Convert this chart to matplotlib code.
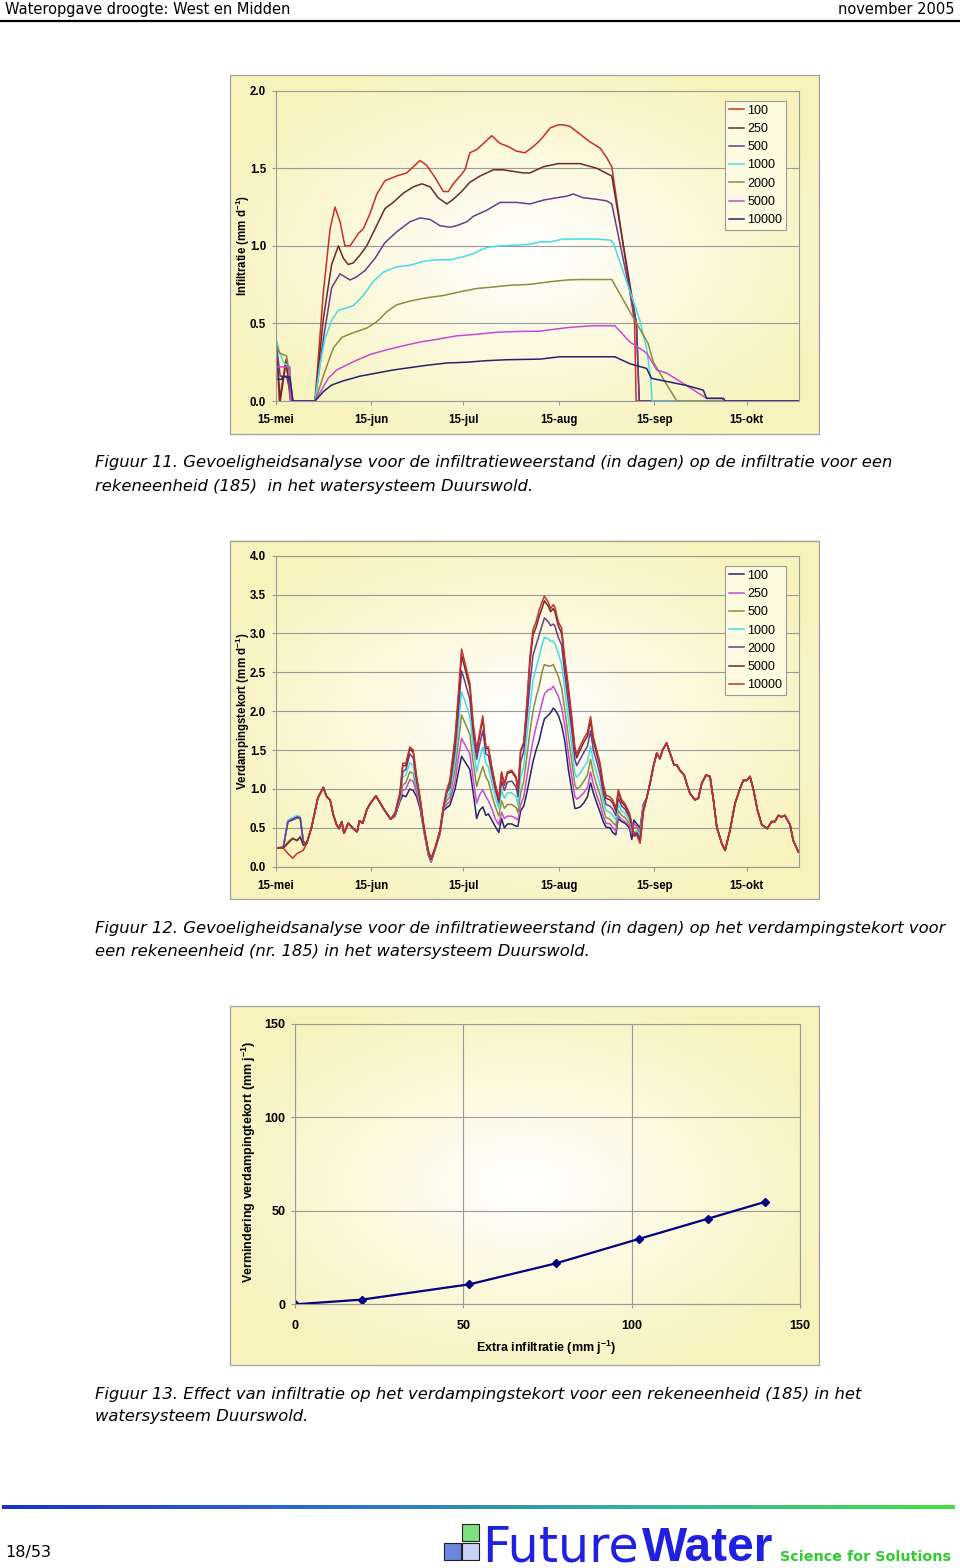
import numpy as np
import matplotlib
matplotlib.use("Agg")
import matplotlib.pyplot as plt
from matplotlib.patches import Rectangle
from matplotlib.colors import LinearSegmentedColormap, to_rgb

W, H = 960, 1568

# ---------------- data ----------------
series_labels = ["100", "250", "500", "1000", "2000", "5000", "10000"]
tick_days = [0, 31, 61, 92, 123, 153]          # days after 15 May
tick_labels = ["15-mei", "15-jun", "15-jul", "15-aug", "15-sep", "15-okt"]

# Figure 11: infiltration (mm/d), one day list per series
inf_days_100 = [0, 1.2, 3.4, 4.8, 12.8, 15.5, 17.7, 19.3, 21.0, 22.5, 24.2, 26.9, 28.5, 30.7, 32.8, 35.5,
                39.3, 42.6, 44.2, 46.9, 49.0, 51.8, 54.5, 56.1, 57.7, 59.9, 61.5, 63.1, 65.3, 67.5, 70.2,
                72.9, 75.6, 78.3, 81.0, 83.7, 85.9, 89.2, 91.8, 93.5, 95.6, 98.9, 102.1, 105.4, 107.5,
                109.2, 116.6, 117.1, 170]
inf_100 = [0.46, 0.0, 0.27, 0.0, 0.0, 0.70, 1.11, 1.25, 1.15, 1.00, 1.00, 1.08, 1.11, 1.21, 1.33, 1.42,
           1.45, 1.47, 1.50, 1.55, 1.52, 1.44, 1.35, 1.35, 1.40, 1.45, 1.49, 1.60, 1.62, 1.66, 1.71,
           1.66, 1.64, 1.61, 1.60, 1.64, 1.68, 1.76, 1.78, 1.78, 1.77, 1.72, 1.67, 1.63, 1.57,
           1.51, 0.50, 0.0, 0.0]

inf_days_250 = [0, 1.5, 3.4, 5.2, 12.8, 15.5, 18.2, 20.4, 22.0, 23.6, 25.2, 27.4, 29.6, 32.8, 35.5, 38.2,
                41.5, 44.7, 47.5, 50.2, 52.8, 55.6, 57.7, 60.4, 63.1, 66.4, 70.7, 73.9, 77.2, 80.5, 82.6,
                87.0, 91.8, 98.9, 104.3, 109.2, 117.2, 118.1, 170]
inf_250 = [0.44, 0.0, 0.25, 0.0, 0.0, 0.53, 0.88, 1.00, 0.92, 0.88, 0.89, 0.94, 1.00, 1.13, 1.24, 1.28,
           1.34, 1.38, 1.40, 1.38, 1.31, 1.27, 1.30, 1.35, 1.41, 1.45, 1.49, 1.49, 1.48, 1.47, 1.47,
           1.51, 1.53, 1.53, 1.50, 1.45, 0.50, 0.0, 0.0]

inf_days_500 = [0, 1.5, 3.5, 5.5, 12.8, 15.5, 18.2, 20.9, 22.5, 24.2, 26.3, 29.0, 32.3, 35.5, 39.3, 43.6,
                46.9, 50.2, 53.4, 56.6, 58.8, 62.1, 64.2, 68.6, 72.9, 78.3, 82.6, 87.0, 91.3, 94.6, 96.7,
                99.9, 104.3, 107.5, 109.2, 117.2, 118.1, 170]
inf_500 = [0.40, 0.16, 0.16, 0.0, 0.0, 0.40, 0.73, 0.82, 0.80, 0.78, 0.80, 0.84, 0.92, 1.02, 1.09, 1.155,
           1.18, 1.17, 1.13, 1.12, 1.13, 1.155, 1.19, 1.23, 1.28, 1.28, 1.27, 1.295, 1.31, 1.32, 1.334,
           1.31, 1.30, 1.29, 1.27, 0.50, 0.0, 0.0]

inf_days_1000 = [0, 1.5, 2.5, 4.5, 5.5, 12.8, 14.4, 16.0, 18.2, 20.4, 23.1, 25.2, 28.5, 31.7, 35.0, 39.3,
                 43.6, 48.0, 52.3, 56.6, 61.0, 64.2, 68.6, 72.9, 78.3, 82.6, 85.9, 89.2, 93.5, 98.9, 104.3,
                 108.6, 109.7, 118.3, 120.5, 121.8, 122.3, 170]
inf_1000 = [0.41, 0.30, 0.25, 0.22, 0.0, 0.0, 0.23, 0.40, 0.52, 0.586, 0.60, 0.615, 0.68, 0.77, 0.83, 0.865,
            0.875, 0.90, 0.91, 0.91, 0.93, 0.95, 0.99, 1.00, 1.005, 1.01, 1.026, 1.026, 1.044, 1.044, 1.044,
            1.037, 1.02, 0.52, 0.34, 0.146, 0.0, 0.0]

inf_days_2000 = [0, 1.2, 3.6, 5.7, 12.8, 16.0, 18.7, 21.5, 25.2, 29.6, 32.8, 36.1, 39.3, 43.6, 49.0, 54.5,
                 59.9, 65.3, 70.7, 76.2, 82.6, 85.9, 89.2, 94.6, 98.9, 109.2, 115.1, 117.3, 121.0, 122.7,
                 126.5, 130.3, 170]
inf_2000 = [0.38, 0.31, 0.29, 0.0, 0.0, 0.19, 0.34, 0.41, 0.44, 0.47, 0.51, 0.575, 0.62, 0.644, 0.665, 0.68,
            0.704, 0.725, 0.735, 0.746, 0.752, 0.76, 0.769, 0.78, 0.783, 0.783, 0.575, 0.50, 0.37, 0.25,
            0.124, 0.0, 0.0]

inf_days_5000 = [0, 4.6, 4.9, 12.8, 17.1, 19.8, 25.2, 30.7, 36.1, 41.5, 46.9, 52.3, 58.8, 65.3, 71.8, 78.3,
                 85.9, 89.2, 95.6, 103.2, 110.2, 115.1, 120.5, 123.8, 127.0, 133.5, 140.0, 145.0, 145.5, 170]
inf_5000 = [0.22, 0.22, 0.0, 0.0, 0.146, 0.20, 0.253, 0.30, 0.33, 0.356, 0.38, 0.397, 0.42, 0.43, 0.443, 0.448,
            0.45, 0.459, 0.475, 0.485, 0.485, 0.38, 0.31, 0.20, 0.18, 0.10, 0.017, 0.017, 0.0, 0.0]

inf_days_10000 = [0, 2.0, 2.2, 4.6, 5.6, 12.8, 15.5, 18.2, 22.0, 27.4, 32.8, 38.2, 43.6, 49.0, 55.6, 62.1,
                  68.6, 75.1, 85.9, 92.3, 98.9, 110.2, 115.1, 120.5, 122.1, 126.0, 133.5, 138.9, 140.0, 145.5,
                  146.0, 170]
inf_10000 = [0.14, 0.14, 0.155, 0.155, 0.0, 0.0, 0.06, 0.103, 0.13, 0.16, 0.18, 0.20, 0.215, 0.23, 0.245, 0.25,
             0.26, 0.266, 0.27, 0.285, 0.285, 0.285, 0.24, 0.21, 0.146, 0.13, 0.10, 0.07, 0.017, 0.017,
             0.0, 0.0]

# Figure 12: evaporation deficit (mm/d), shared day grid in five stretches
ed_days_a = [0, 2.5, 4.0, 5.5, 7.0, 8.0, 9.0]
ed_days_b = [10.1, 11.7, 13.7, 15.5, 16.6, 17.7, 18.8, 19.8, 20.6, 21.5, 22.2, 23.6, 25.2, 26.5, 27.2,
             28.3, 29.6, 30.7, 32.6, 35.0, 37.4]
ed_days_c = [38.8, 40.4, 41.3, 42.3, 43.6, 44.7, 45.8, 46.9, 48.2, 49.6, 50.5]
ed_days_d = [51.8, 53.4, 54.5, 55.6, 56.6, 58.3, 59.3, 60.4, 61.5, 63.1, 64.2, 65.3, 66.2, 67.3, 68.3,
             69.1, 70.2, 71.3, 72.5, 73.4, 74.3, 75.3, 76.7, 78.1, 78.7, 79.6, 80.6, 81.6, 82.6, 83.6,
             84.6, 85.6, 86.5, 87.3, 88.6, 89.3, 90.2, 90.7, 91.8, 92.9, 94.0, 95.1, 96.2, 97.2, 97.8,
             98.9, 100.1, 101.3, 102.3, 103.2, 104.3, 105.4, 106.4, 107.3, 108.6, 109.5, 110.5, 111.3,
             112.4, 113.5, 114.9, 115.7, 116.4, 117.3, 118.4, 119.4]
ed_days_e = [120.5, 121.6, 122.7, 123.8, 124.8, 125.7, 127.0, 128.1, 129.4, 130.3, 131.3, 132.7, 133.5,
             134.6, 136.2, 137.3, 138.4, 139.8, 141.1, 142.2, 143.3, 144.9, 146.0, 147.6, 149.2, 150.8,
             151.9, 153.0, 154.1, 155.2, 156.5, 157.9, 159.7, 161.1, 162.2, 163.3, 164.4, 165.4, 167.1,
             168.1, 169.8]

ed_common_b = [0.30, 0.51, 0.88, 1.02, 0.90, 0.86, 0.66, 0.54, 0.49, 0.58, 0.43, 0.56, 0.49, 0.45, 0.59,
               0.56, 0.73, 0.81, 0.91, 0.75, 0.61]
ed_common_e = [0.88, 1.07, 1.29, 1.46, 1.39, 1.50, 1.59, 1.46, 1.31, 1.31, 1.24, 1.18, 1.07, 0.94, 0.86,
               0.88, 1.07, 1.18, 1.16, 0.86, 0.51, 0.30, 0.21, 0.47, 0.81, 1.00, 1.11, 1.11, 1.16, 0.99,
               0.73, 0.54, 0.49, 0.58, 0.58, 0.66, 0.64, 0.66, 0.54, 0.34, 0.19]

ed_a_100 = [0.24, 0.25, 0.58, 0.60, 0.63, 0.62, 0.32]
ed_a_250 = [0.24, 0.25, 0.59, 0.61, 0.64, 0.62, 0.32]
ed_a_500 = [0.24, 0.24, 0.32, 0.37, 0.33, 0.39, 0.27]
ed_a_1000 = [0.24, 0.25, 0.60, 0.63, 0.66, 0.64, 0.33]
ed_a_2000 = [0.24, 0.25, 0.58, 0.61, 0.64, 0.63, 0.32]
ed_a_5000 = [0.24, 0.24, 0.30, 0.36, 0.34, 0.38, 0.28]
ed_a_10000 = [0.24, 0.24, 0.17, 0.11, 0.17, 0.19, 0.21]

ed_c_100 = [0.65, 0.84, 0.92, 0.90, 1.00, 0.98, 0.90, 0.75, 0.45, 0.15, 0.06]
ed_c_250 = [0.66, 0.86, 0.98, 1.00, 1.12, 1.10, 0.95, 0.79, 0.46, 0.16, 0.06]
ed_c_500 = [0.67, 0.88, 1.05, 1.08, 1.22, 1.20, 1.00, 0.82, 0.47, 0.17, 0.07]
ed_c_1000 = [0.68, 0.90, 1.15, 1.18, 1.34, 1.30, 1.05, 0.84, 0.48, 0.18, 0.08]
ed_c_2000 = [0.68, 0.92, 1.22, 1.25, 1.45, 1.40, 1.10, 0.86, 0.49, 0.19, 0.09]
ed_c_5000 = [0.69, 0.95, 1.30, 1.30, 1.52, 1.47, 1.14, 0.88, 0.50, 0.20, 0.10]
ed_c_10000 = [0.69, 0.95, 1.33, 1.33, 1.54, 1.50, 1.16, 0.90, 0.51, 0.21, 0.11]

ed_d_100 = [0.22, 0.42, 0.72, 0.76, 0.79, 1.00, 1.20, 1.42, 1.35, 1.25, 0.95, 0.62, 0.72, 0.77, 0.66,
            0.68, 0.60, 0.52, 0.44, 0.62, 0.50, 0.55, 0.55, 0.52, 0.52, 0.72, 0.78, 0.95, 1.15, 1.35,
            1.50, 1.62, 1.78, 1.90, 1.95, 1.98, 2.04, 2.02, 1.95, 1.82, 1.60, 1.25, 0.98, 0.75, 0.75,
            0.77, 0.82, 0.90, 1.08, 0.95, 0.82, 0.70, 0.58, 0.51, 0.50, 0.44, 0.41, 0.62, 0.58, 0.56,
            0.50, 0.35, 0.60, 0.55, 0.50, 0.80]
ed_d_250 = [0.225, 0.43, 0.73, 0.80, 0.84, 1.10, 1.38, 1.65, 1.57, 1.45, 1.12, 0.82, 0.92, 0.99, 0.90,
            0.85, 0.75, 0.62, 0.54, 0.70, 0.62, 0.65, 0.65, 0.62, 0.60, 0.80, 0.90, 1.15, 1.40, 1.62,
            1.80, 1.95, 2.10, 2.22, 2.28, 2.28, 2.32, 2.28, 2.20, 2.05, 1.80, 1.45, 1.15, 0.90, 0.87,
            0.90, 0.95, 1.02, 1.22, 1.06, 0.92, 0.80, 0.65, 0.56, 0.55, 0.50, 0.46, 0.66, 0.60, 0.58,
            0.53, 0.42, 0.55, 0.52, 0.47, 0.78]
ed_d_500 = [0.23, 0.44, 0.74, 0.85, 0.90, 1.25, 1.58, 1.95, 1.85, 1.70, 1.33, 1.03, 1.15, 1.29, 1.15,
            1.10, 0.93, 0.78, 0.65, 0.85, 0.75, 0.80, 0.80, 0.76, 0.70, 0.95, 1.10, 1.42, 1.73, 2.00,
            2.18, 2.32, 2.50, 2.60, 2.58, 2.58, 2.60, 2.55, 2.45, 2.30, 2.00, 1.68, 1.35, 1.05, 1.00,
            1.03, 1.10, 1.18, 1.38, 1.20, 1.05, 0.92, 0.75, 0.63, 0.61, 0.57, 0.53, 0.72, 0.66, 0.63,
            0.56, 0.47, 0.50, 0.50, 0.43, 0.76]
ed_d_1000 = [0.23, 0.45, 0.75, 0.90, 0.95, 1.38, 1.78, 2.25, 2.13, 1.93, 1.52, 1.22, 1.38, 1.54, 1.33,
             1.28, 1.08, 0.90, 0.75, 0.98, 0.88, 0.95, 0.95, 0.90, 0.80, 1.15, 1.30, 1.68, 2.05, 2.40,
             2.55, 2.70, 2.85, 2.95, 2.93, 2.90, 2.90, 2.87, 2.75, 2.60, 2.25, 1.90, 1.55, 1.20, 1.15,
             1.20, 1.28, 1.35, 1.55, 1.35, 1.20, 1.05, 0.85, 0.72, 0.70, 0.66, 0.60, 0.80, 0.72, 0.69,
             0.60, 0.50, 0.45, 0.46, 0.40, 0.74]
ed_d_2000 = [0.235, 0.46, 0.76, 0.95, 1.02, 1.50, 1.97, 2.52, 2.38, 2.15, 1.70, 1.38, 1.56, 1.75, 1.45,
             1.43, 1.20, 1.00, 0.82, 1.10, 0.98, 1.09, 1.10, 1.03, 0.90, 1.35, 1.48, 1.90, 2.35, 2.72,
             2.85, 2.98, 3.10, 3.20, 3.15, 3.10, 3.12, 3.10, 2.95, 2.85, 2.45, 2.10, 1.75, 1.38, 1.30,
             1.38, 1.47, 1.55, 1.75, 1.50, 1.35, 1.18, 0.95, 0.80, 0.78, 0.74, 0.66, 0.88, 0.78, 0.74,
             0.64, 0.52, 0.42, 0.44, 0.36, 0.72]
ed_d_5000 = [0.24, 0.47, 0.77, 0.98, 1.08, 1.62, 2.12, 2.72, 2.55, 2.30, 1.80, 1.47, 1.67, 1.90, 1.52,
             1.52, 1.27, 1.05, 0.86, 1.20, 1.05, 1.20, 1.22, 1.14, 0.98, 1.48, 1.58, 2.06, 2.62, 2.98,
             3.08, 3.22, 3.32, 3.42, 3.35, 3.28, 3.32, 3.28, 3.10, 3.00, 2.60, 2.25, 1.88, 1.50, 1.40,
             1.50, 1.60, 1.68, 1.88, 1.62, 1.45, 1.28, 1.03, 0.88, 0.86, 0.82, 0.72, 0.96, 0.83, 0.78,
             0.67, 0.55, 0.40, 0.42, 0.32, 0.70]
ed_d_10000 = [0.24, 0.47, 0.77, 0.99, 1.11, 1.67, 2.19, 2.80, 2.62, 2.36, 1.84, 1.50, 1.71, 1.94, 1.54,
              1.54, 1.29, 1.07, 0.88, 1.22, 1.07, 1.22, 1.24, 1.16, 0.99, 1.50, 1.60, 2.10, 2.70, 3.05,
              3.15, 3.30, 3.40, 3.48, 3.40, 3.32, 3.37, 3.34, 3.15, 3.07, 2.66, 2.32, 1.93, 1.54, 1.45,
              1.55, 1.65, 1.73, 1.93, 1.67, 1.50, 1.33, 1.07, 0.92, 0.90, 0.86, 0.75, 0.99, 0.86, 0.81,
              0.69, 0.56, 0.39, 0.41, 0.30, 0.69]

ed_days = ed_days_a + ed_days_b + ed_days_c + ed_days_d + ed_days_e
ed_100 = ed_a_100 + ed_common_b + ed_c_100 + ed_d_100 + ed_common_e
ed_250 = ed_a_250 + ed_common_b + ed_c_250 + ed_d_250 + ed_common_e
ed_500 = ed_a_500 + ed_common_b + ed_c_500 + ed_d_500 + ed_common_e
ed_1000 = ed_a_1000 + ed_common_b + ed_c_1000 + ed_d_1000 + ed_common_e
ed_2000 = ed_a_2000 + ed_common_b + ed_c_2000 + ed_d_2000 + ed_common_e
ed_5000 = ed_a_5000 + ed_common_b + ed_c_5000 + ed_d_5000 + ed_common_e
ed_10000 = ed_a_10000 + ed_common_b + ed_c_10000 + ed_d_10000 + ed_common_e

# Figure 13: extra infiltration vs reduction of evaporation deficit (mm/yr)
extra_infiltration = [0, 19.8, 51.8, 77.5, 102.2, 122.7, 139.7]
deficit_reduction = [0, 2.5, 10.7, 21.9, 35.0, 45.8, 54.8]

# ---------------- styling ----------------
colors_fig11 = ["#c8302c", "#6a2a2a", "#6c3c8c", "#46dce6", "#8c8c3c", "#cc48d4", "#24246a"]
colors_fig12 = ["#24246a", "#cc48d4", "#8c8c3c", "#46dce6", "#6c3c8c", "#6a2a2a", "#c8302c"]
GRID = "#9a9a9a"
CHART_FONT = "Liberation Sans"
TEXT_FONT = "DejaVu Sans"
CAPTION_SIZE = 11.8

plt.rcParams["font.family"] = CHART_FONT
plt.rcParams["mathtext.fontset"] = "custom"
plt.rcParams["mathtext.rm"] = "Liberation Sans:bold"
plt.rcParams["mathtext.it"] = "Liberation Sans:bold"
plt.rcParams["mathtext.bf"] = "Liberation Sans:bold"
plt.rcParams["mathtext.default"] = "rm"

fig = plt.figure(figsize=(W / 100, H / 100), dpi=100)
page = fig.add_axes([0, 0, 1, 1])
page.axis("off")


def frac(x0, y0, x1, y1):
    return [x0 / W, 1 - y1 / H, (x1 - x0) / W, (y1 - y0) / H]


def chart_box(x0, y0, x1, y1):
    # radial white-to-yellow fill like the Excel chart area
    yy, xx = np.mgrid[-1:1:160j, -1:1:240j]
    t = np.clip(np.sqrt(xx ** 2 + yy ** 2) / np.sqrt(2) * 1.25, 0, 1)[..., None]
    white = np.array([1.0, 1.0, 1.0])
    yellow = np.array(to_rgb("#f8f3bd"))
    img = white * (1 - t) + yellow * t
    page.imshow(img, extent=(x0, x1, y1, y0), aspect="auto", interpolation="bilinear", zorder=0)
    page.add_patch(Rectangle((x0, y0), x1 - x0, y1 - y0, fill=False, ec="#a0a0a0", lw=0.9, zorder=1))


def style_axes(ax, fs):
    ax.patch.set_alpha(0)
    for s in ax.spines.values():
        s.set_color(GRID)
        s.set_linewidth(0.8)
    ax.tick_params(length=3, width=0.8, color=GRID, labelsize=fs)
    for lab in ax.get_xticklabels() + ax.get_yticklabels():
        lab.set_fontweight("bold")


def add_legend(ax, x, y):
    leg = ax.legend(loc="upper left", bbox_to_anchor=(x / W, 1 - y / H), bbox_transform=fig.transFigure,
                    fontsize=9, frameon=True, fancybox=False, edgecolor=GRID, facecolor="#fdfbe0",
                    framealpha=1, borderpad=0.3, labelspacing=0.5, handlelength=1.25,
                    handletextpad=0.25, borderaxespad=0)
    leg.get_frame().set_linewidth(0.8)


def day_axes(box, plot, ymax, yticks, ylabel):
    chart_box(*box)
    ax = fig.add_axes(frac(*plot))
    ax.set_xlim(0, 170)
    ax.set_ylim(0, ymax)
    ax.set_xticks(tick_days)
    ax.set_xticklabels(tick_labels)
    ax.set_yticks(yticks)
    ax.set_yticklabels([f"{v:.1f}" for v in yticks])
    ax.grid(axis="y", color=GRID, lw=0.8)
    ax.set_axisbelow(True)
    style_axes(ax, 8.3)
    ax.tick_params(axis="x", pad=6.5)
    ax.tick_params(axis="y", pad=3.8)
    ax.set_ylabel(ylabel, fontsize=8.3, fontweight="bold")
    ax.yaxis.label.set_va("center")
    ax.yaxis.set_label_coords(-0.0634, 0.5)
    return ax


def caption(y, text):
    page.text(95, y, text, family=TEXT_FONT, style="italic", fontsize=CAPTION_SIZE, va="center")


# ---------------- page header ----------------
page.text(5, 9.5, "Wateropgave droogte: West en Midden", family=TEXT_FONT, fontsize=10.5, va="center")
page.text(955, 9.5, "november 2005", family=TEXT_FONT, fontsize=10.5, va="center", ha="right")
page.plot([0, 960], [20.5, 20.5], color="black", lw=1.6)

# ---------------- Figure 11 ----------------
ax1 = day_axes((230, 75, 819, 434), (275.6, 90.7, 799, 401), 2.0, [0, 0.5, 1.0, 1.5, 2.0],
               "Infiltratie (mm d$^{-1}$)")
fig11 = [(inf_days_100, inf_100), (inf_days_250, inf_250), (inf_days_500, inf_500),
         (inf_days_1000, inf_1000), (inf_days_2000, inf_2000), (inf_days_5000, inf_5000),
         (inf_days_10000, inf_10000)]
for (d, v), lab, c in zip(fig11, series_labels, colors_fig11):
    ax1.plot(d, v, color=c, lw=1.1, label=lab)
add_legend(ax1, 725, 101)

caption(462, "Figuur 11. Gevoeligheidsanalyse voor de infiltratieweerstand (in dagen) op de infiltratie voor een")
caption(486, "rekeneenheid (185)  in het watersysteem Duurswold.")

# ---------------- Figure 12 ----------------
ax2 = day_axes((230, 541, 819, 899), (275.6, 555.7, 799, 866.7), 4.0,
               [0, 0.5, 1.0, 1.5, 2.0, 2.5, 3.0, 3.5, 4.0], "Verdampingstekort (mm d$^{-1}$)")
fig12 = [ed_100, ed_250, ed_500, ed_1000, ed_2000, ed_5000, ed_10000]
for v, lab, c in zip(fig12, series_labels, colors_fig12):
    ax2.plot(ed_days, v, color=c, lw=1.1, label=lab)
add_legend(ax2, 725, 566)

caption(928, "Figuur 12. Gevoeligheidsanalyse voor de infiltratieweerstand (in dagen) op het verdampingstekort voor")
caption(951, "een rekeneenheid (nr. 185) in het watersysteem Duurswold.")

# ---------------- Figure 13 ----------------
chart_box(230, 1006, 819, 1365)
ax3 = fig.add_axes(frac(295.2, 1024, 799.7, 1304.3))
ax3.set_xlim(0, 150)
ax3.set_ylim(0, 150)
ax3.set_xticks([0, 50, 100, 150])
ax3.set_yticks([0, 50, 100, 150])
ax3.grid(True, color=GRID, lw=0.8)
ax3.set_axisbelow(True)
ax3.plot(extra_infiltration, deficit_reduction, color="#000080", lw=1.6, marker="D", markersize=4.5)
style_axes(ax3, 9)
ax3.tick_params(axis="x", pad=8)
ax3.tick_params(axis="y", pad=4)
ax3.set_xlabel("Extra infiltratie (mm j$^{-1}$)", fontsize=9, fontweight="bold")
ax3.xaxis.label.set_va("center")
ax3.xaxis.set_label_coords(0.498, -0.157)
ax3.set_ylabel("Vermindering verdampingtekort (mm j$^{-1}$)", fontsize=9, fontweight="bold")
ax3.yaxis.label.set_va("center")
ax3.yaxis.set_label_coords(-0.092, 0.509)

caption(1394, "Figuur 13. Effect van infiltratie op het verdampingstekort voor een rekeneenheid (185) in het")
caption(1417, "watersysteem Duurswold.")

# ---------------- footer ----------------
bar = LinearSegmentedColormap.from_list("bar", ["#1a30c8", "#2a6ec8", "#38b0a4", "#44e040"])
page.imshow(np.linspace(0, 1, 256)[None, :], cmap=bar, extent=(2, 955, 1509.5, 1505.5), aspect="auto", zorder=2)

page.text(5, 1553, "18/53", family=TEXT_FONT, fontsize=11.5, va="center")
page.add_patch(Rectangle((462, 1524), 17, 17, fc="#7fe07f", ec="#202020", lw=0.8, zorder=3))
page.add_patch(Rectangle((444, 1543), 17, 17, fc="#6f86e0", ec="#202020", lw=0.8, zorder=3))
page.add_patch(Rectangle((462, 1543), 17, 17, fc="#c8d2f4", ec="#202020", lw=0.8, zorder=3))
page.text(482, 1561, "Future", family=TEXT_FONT, fontsize=35.5, color="#2020e0", va="baseline")
page.text(642, 1561, "Water", family=CHART_FONT, fontsize=34.5, fontweight="bold", color="#2020e0",
          va="baseline")
page.text(780, 1561, "Science for Solutions", family=TEXT_FONT, fontsize=10.3, fontweight="bold",
          color="#2ecc2e", va="baseline")

page.set_xlim(0, W)
page.set_ylim(H, 0)

fig.savefig("out.png", dpi=100)
